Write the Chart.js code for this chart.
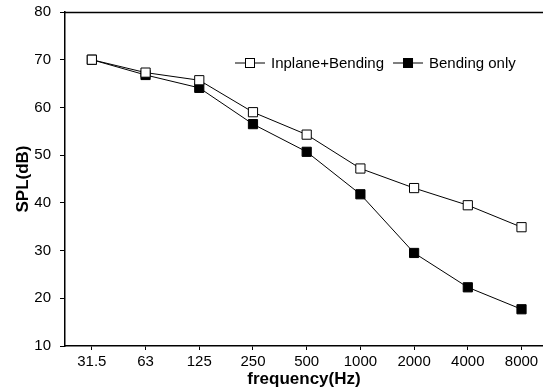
<!DOCTYPE html>
<html><head><meta charset="utf-8">
<script src="https://cdn.jsdelivr.net/npm/chart.js@4"></script>
<style>html,body{margin:0;padding:0;background:#fff}#wrap{width:543px;height:392px}</style>
</head><body><div id="wrap"><canvas id="c" width="543" height="392"></canvas></div>
<script>
const categories = ["31.5","63","125","250","500","1000","2000","4000","8000"];
const inplaneBending = [70, 67.3, 65.7, 59, 54.3, 47.2, 43.1, 39.5, 34.9];
const bendingOnly = [70, 66.8, 64.1, 56.5, 50.7, 41.8, 29.5, 22.3, 17.7];
const yTicks = [10, 20, 30, 40, 50, 60, 70, 80];
const seriesNames = ["Inplane+Bending", "Bending only"];

const FONT = "'Liberation Sans', Arial, sans-serif";

const toXY = arr => arr.map((v, i) => ({x: i, y: v}));

const frame = {
  id: 'frame',
  afterDraw(chart) {
    const {ctx, chartArea: a} = chart;
    ctx.save();
    ctx.strokeStyle = '#000';
    ctx.lineWidth = 1.5;
    ctx.beginPath();
    ctx.moveTo(a.left, a.top + 0.5);
    ctx.lineTo(a.right, a.top + 0.5);
    ctx.stroke();
    // legend
    const y = a.top + 51;
    let x = a.left + 170;
    ctx.font = '15px ' + FONT;
    ctx.textBaseline = 'middle';
    chart.data.datasets.forEach(ds => {
      ctx.strokeStyle = '#000';
      ctx.lineWidth = 1;
      ctx.beginPath();
      ctx.moveTo(x, y); ctx.lineTo(x + 30, y); ctx.stroke();
      ctx.fillStyle = ds.pointBackgroundColor;
      ctx.fillRect(x + 10.5, y - 4.5, 9, 9);
      ctx.strokeRect(x + 10.5, y - 4.5, 9, 9);
      ctx.fillStyle = '#000';
      ctx.fillText(ds.label, x + 36, y + 1);
      x += 36 + ctx.measureText(ds.label).width + 9;
    });
    ctx.restore();
  }
};

new Chart(document.getElementById('c'), {
  type: 'line',
  data: {
    datasets: [
      {label: seriesNames[0], data: toXY(inplaneBending), borderColor: '#000', borderWidth: 1,
       pointStyle: 'rect', pointRadius: 6.5, pointBackgroundColor: '#fff', pointBorderColor: '#000', pointBorderWidth: 1},
      {label: seriesNames[1], data: toXY(bendingOnly), borderColor: '#000', borderWidth: 1,
       pointStyle: 'rect', pointRadius: 6.5, pointBackgroundColor: '#000', pointBorderColor: '#000', pointBorderWidth: 1}
    ]
  },
  options: {
    responsive: false,
    animation: false,
    layout: {autoPadding: false, padding: {top: 12, right: 0, left: 10, bottom: 0}},
    plugins: {legend: {display: false}, tooltip: {enabled: false}},
    scales: {
      x: {
        type: 'linear', min: -0.5, max: 8.4,
        afterBuildTicks: s => { s.ticks = categories.map((c, i) => ({value: i})); },
        afterFit: s => { s.height = 46; s.paddingLeft = 0; s.paddingRight = 0; },
        ticks: {callback: (v) => categories[v] ?? '', color: '#000', font: {size: 15, family: FONT}, padding: 3, maxRotation: 0},
        grid: {display: true, drawOnChartArea: false, tickLength: 4, color: '#000'},
        border: {color: '#000', width: 1.5},
        title: {display: true, text: 'frequency(Hz)', color: '#000', font: {size: 17, weight: 'bold', family: FONT}, padding: {top: 0, bottom: 2}}
      },
      y: {
        min: 10, max: 80,
        afterBuildTicks: s => { s.ticks = yTicks.map(v => ({value: v})); },
        afterFit: s => { s.width = 55; s.paddingTop = 0; s.paddingBottom = 0; },
        ticks: {color: '#000', font: {size: 15, family: FONT}, padding: 9},
        grid: {display: true, drawOnChartArea: false, tickLength: 5, color: '#000'},
        border: {color: '#000', width: 1.5},
        title: {display: true, text: 'SPL(dB)', color: '#000', font: {size: 17, weight: 'bold', family: FONT}, padding: {top: 3, bottom: 0}}
      }
    }
  },
  plugins: [frame]
});
</script></body></html>
